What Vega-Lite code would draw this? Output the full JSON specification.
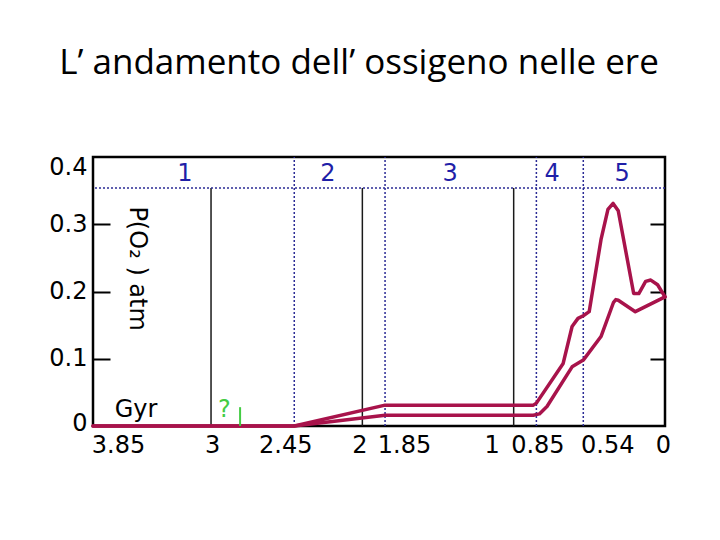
{
  "$schema": "https://vega.github.io/schema/vega-lite/v6.json",
  "width": 572,
  "height": 269,
  "autosize": "none",
  "padding": {"left": 93, "top": 157, "right": 55, "bottom": 114},
  "background": "white",
  "title": {
    "text": "L’ andamento dell’ ossigeno nelle ere",
    "font": "Open Sans",
    "fontSize": 35,
    "fontWeight": "normal",
    "color": "black",
    "anchor": "middle",
    "frame": "group",
    "baseline": "alphabetic",
    "offset": 46,
    "dx": -20
  },
  "config": {
    "view": {"stroke": "black", "strokeWidth": 2.5},
    "font": "DejaVu Sans"
  },
  "datasets": {
    "curves": [
      {"series": "upper", "t": 3.78, "v": 0},
      {"series": "upper", "t": 2.45, "v": 0},
      {"series": "upper", "t": 1.85, "v": 0.031},
      {"series": "upper", "t": 0.87, "v": 0.031},
      {"series": "upper", "t": 0.85, "v": 0.034},
      {"series": "upper", "t": 0.673, "v": 0.093},
      {"series": "upper", "t": 0.614, "v": 0.148},
      {"series": "upper", "t": 0.575, "v": 0.16},
      {"series": "upper", "t": 0.54, "v": 0.164},
      {"series": "upper", "t": 0.501, "v": 0.17},
      {"series": "upper", "t": 0.423, "v": 0.277},
      {"series": "upper", "t": 0.377, "v": 0.322},
      {"series": "upper", "t": 0.343, "v": 0.331},
      {"series": "upper", "t": 0.309, "v": 0.32},
      {"series": "upper", "t": 0.207, "v": 0.197},
      {"series": "upper", "t": 0.173, "v": 0.197},
      {"series": "upper", "t": 0.128, "v": 0.215},
      {"series": "upper", "t": 0.094, "v": 0.217},
      {"series": "upper", "t": 0.049, "v": 0.21},
      {"series": "upper", "t": 0, "v": 0.192},
      {"series": "lower", "t": 3.78, "v": 0},
      {"series": "lower", "t": 2.45, "v": 0},
      {"series": "lower", "t": 1.85, "v": 0.016},
      {"series": "lower", "t": 0.87, "v": 0.016},
      {"series": "lower", "t": 0.83, "v": 0.018},
      {"series": "lower", "t": 0.78, "v": 0.029},
      {"series": "lower", "t": 0.614, "v": 0.088},
      {"series": "lower", "t": 0.54, "v": 0.098},
      {"series": "lower", "t": 0.423, "v": 0.133},
      {"series": "lower", "t": 0.34, "v": 0.184},
      {"series": "lower", "t": 0.325, "v": 0.188},
      {"series": "lower", "t": 0.309, "v": 0.187},
      {"series": "lower", "t": 0.196, "v": 0.17},
      {"series": "lower", "t": 0, "v": 0.192}
    ],
    "eraLines": [
      {"t": 3, "lo": 0, "hi": 0.354},
      {"t": 2, "lo": 0, "hi": 0.354},
      {"t": 1, "lo": 0, "hi": 0.354}
    ],
    "boundaries": [
      {"t": 2.45, "lo": 0, "hi": 0.4},
      {"t": 1.85, "lo": 0, "hi": 0.4},
      {"t": 0.85, "lo": 0, "hi": 0.4},
      {"t": 0.54, "lo": 0, "hi": 0.4}
    ],
    "eras": [
      {"t": 3.172, "v": 0.374, "label": "1"},
      {"t": 2.227, "v": 0.374, "label": "2"},
      {"t": 1.42, "v": 0.374, "label": "3"},
      {"t": 0.746, "v": 0.374, "label": "4"},
      {"t": 0.284, "v": 0.374, "label": "5"}
    ]
  },
  "layer": [
    {
      "data": {"name": "eraLines"},
      "mark": {"type": "rule", "color": "#1a1a1a", "strokeWidth": 1.5},
      "encoding": {
        "x": {"field": "t", "type": "quantitative", "scale": {"domain": [0, 3.78], "reverse": true, "nice": false, "zero": false},
          "axis": {"title": null, "values": [3.78, 3, 2.45, 2, 1.85, 1, 0.85, 0.54, 0],
            "labelExpr": "datum.value > 3.7 ? '3.85' : toString(datum.value)",
            "ticks": false, "domain": false, "grid": false,
            "labelFont": "DejaVu Sans", "labelFontSize": 24, "labelColor": "black",
            "labelPadding": 7, "labelFlush": false, "labelOverlap": false,
            "labelOffset": {"condition": [
              {"test": "datum.value > 3.7", "value": 25},
              {"test": "datum.value == 2.45", "value": -9},
              {"test": "datum.value == 1.85", "value": 19},
              {"test": "datum.value == 1", "value": -22},
              {"test": "datum.value == 0.54", "value": 24},
              {"test": "datum.value == 2", "value": -3},
              {"test": "datum.value == 0", "value": -2}
            ], "value": 1}}},
        "y": {"field": "lo", "type": "quantitative", "scale": {"domain": [0, 0.4], "nice": false},
          "axis": {"orient": "right", "title": null, "values": [0.1, 0.2, 0.3], "labels": false, "domain": false, "grid": false,
            "ticks": true, "tickSize": -15, "tickWidth": 2, "tickColor": "black"}},
        "y2": {"field": "hi"}
      }
    },
    {
      "data": {"name": "boundaries"},
      "mark": {"type": "rule", "color": "#2B2B95", "strokeWidth": 1.5, "strokeDash": [2, 2]},
      "encoding": {
        "x": {"field": "t", "type": "quantitative"},
        "y": {"field": "lo", "type": "quantitative",
          "axis": {"orient": "left", "title": null, "values": [0.1, 0.2, 0.3], "labels": false, "domain": false, "grid": false,
            "offset": -17, "ticks": true, "tickSize": 17, "tickWidth": 2, "tickColor": "black"}},
        "y2": {"field": "hi"}
      }
    },
    {
      "data": {"values": [{"v": 0.354}]},
      "mark": {"type": "rule", "color": "#2B2B95", "strokeWidth": 1.5, "strokeDash": [2, 2]},
      "encoding": {
        "y": {"field": "v", "type": "quantitative", "axis": null}
      }
    },
    {
      "data": {"name": "curves"},
      "mark": {"type": "line", "color": "#A8134B", "strokeWidth": 3.5, "strokeCap": "round", "strokeJoin": "round"},
      "encoding": {
        "x": {"field": "t", "type": "quantitative"},
        "y": {"field": "v", "type": "quantitative",
          "axis": {"orient": "left", "title": null, "values": [0, 0.1, 0.2, 0.3, 0.4],
            "labelExpr": "toString(datum.value)",
            "domain": false, "grid": false, "ticks": false,
            "labelFont": "DejaVu Sans", "labelFontSize": 24, "labelColor": "black", "labelPadding": 6,
            "labelOverlap": false, "labelFlush": false,
            "labelOffset": {"condition": [
              {"test": "datum.value == 0.4", "value": 10},
              {"test": "datum.value == 0", "value": -3}
            ], "value": 0}}},
        "detail": {"field": "series"}
      }
    },
    {
      "data": {"values": [{"t": 2.808, "lo": 0, "hi": 0.028}]},
      "mark": {"type": "rule", "color": "#44CC44", "strokeWidth": 2},
      "encoding": {
        "x": {"field": "t", "type": "quantitative"},
        "y": {"field": "lo", "type": "quantitative", "axis": null},
        "y2": {"field": "hi"}
      }
    },
    {
      "data": {"name": "eras"},
      "mark": {"type": "text", "font": "DejaVu Sans", "fontSize": 24, "color": "#1F1FA8", "align": "center", "baseline": "middle"},
      "encoding": {
        "x": {"field": "t", "type": "quantitative"},
        "y": {"field": "v", "type": "quantitative", "axis": null},
        "text": {"field": "label"}
      }
    },
    {
      "data": {"values": [{"t": 3.496, "v": 0.024, "label": "Gyr"}]},
      "mark": {"type": "text", "font": "DejaVu Sans", "fontSize": 24, "color": "black", "align": "center", "baseline": "middle"},
      "encoding": {
        "x": {"field": "t", "type": "quantitative"},
        "y": {"field": "v", "type": "quantitative", "axis": null},
        "text": {"field": "label"}
      }
    },
    {
      "data": {"values": [{"t": 2.911, "v": 0.024, "label": "?"}]},
      "mark": {"type": "text", "font": "DejaVu Sans", "fontSize": 24, "color": "#44CC44", "align": "center", "baseline": "middle"},
      "encoding": {
        "x": {"field": "t", "type": "quantitative"},
        "y": {"field": "v", "type": "quantitative", "axis": null},
        "text": {"field": "label"}
      }
    },
    {
      "data": {"values": [{"t": 3.489, "v": 0.234, "label": "P(O₂ ) atm"}]},
      "mark": {"type": "text", "font": "DejaVu Sans", "fontSize": 24, "color": "black", "align": "center", "baseline": "middle", "angle": 90},
      "encoding": {
        "x": {"field": "t", "type": "quantitative"},
        "y": {"field": "v", "type": "quantitative", "axis": null},
        "text": {"field": "label"}
      }
    }
  ],
  "resolve": {"axis": {"y": "independent"}}
}
